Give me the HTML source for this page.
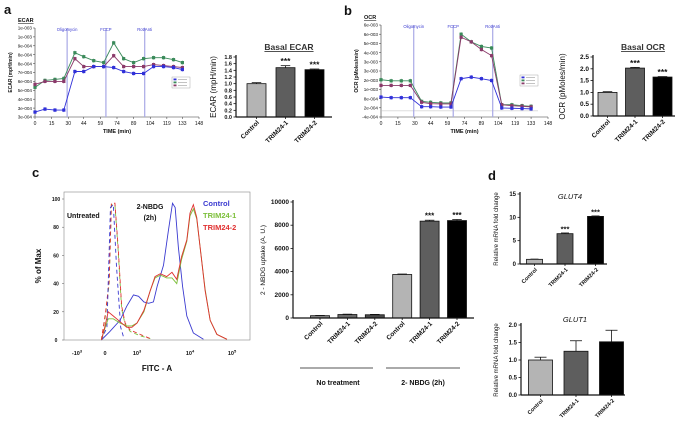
<!DOCTYPE html>
<html><head><meta charset="utf-8"><style>
body{margin:0;background:#fff}
svg{display:block;font-family:"Liberation Sans",sans-serif}
</style></head><body>
<svg id="fig" width="685" height="430" viewBox="0 0 685 430"></svg>
<script>
// ---------- DATA ----------
const times = [0,9,18,26,36,44,53,62,71,80,89,98,107,116,125,133];
const ecarGreen = [5.0,5.7,5.8,5.9,8.5,8.1,7.7,7.5,9.5,7.9,7.5,7.9,8.0,8.0,7.8,7.5];
const ecarPurple = [5.3,5.6,5.6,5.6,7.9,7.1,7.1,7.1,8.2,7.1,7.1,7.1,7.3,7.2,7.1,7.0];
const ecarBlue = [2.5,2.8,2.7,2.7,6.6,6.6,7.1,7.1,7.0,6.6,6.4,6.4,7.1,7.1,7.0,6.8];
const ecarTickLabels = ["3e-004","3e-004","4e-004","5e-004","6e-004","7e-004","8e-004","8e-004","9e-004","1e-003","1e-003"];
const ocrGreen = [2.03,1.96,1.96,1.96,0.62,0.56,0.52,0.52,5.0,4.5,4.2,4.1,0.4,0.4,0.34,0.3];
const ocrPurple = [1.66,1.66,1.66,1.66,0.56,0.47,0.45,0.45,4.8,4.5,4.0,3.6,0.4,0.34,0.3,0.26];
const ocrBlue = [0.9,0.86,0.86,0.86,0.27,0.27,0.25,0.25,2.1,2.2,2.1,1.98,0.19,0.17,0.15,0.13];
const ocrTickLabels = ["-4e-004","2e-004","8e-004","1e-003","2e-003","3e-003","3e-003","4e-003","5e-003","6e-003","6e-003"];
const timeTicks = [0,15,30,44,59,74,89,104,119,133,148];
const injections = ["Oligomycin","FCCP","Rot/Anti"];
const injTimes = [29,64,99];
const barCats = ["Control","TRIM24-1","TRIM24-2"];
const basalEcar = [1.0,1.48,1.42];
const basalEcarErr = [0.03,0.06,0.02];
const basalOcr = [1.0,2.03,1.65];
const basalOcrErr = [0.03,0.03,0.02];
const histBlueU = [-0.13,0.15,0.47,0.68,0.89,1.03,1.13,1.22,1.31,1.38,1.5,1.59,1.67,1.72,1.78,1.86,1.94,2.08,2.32];
const histBlueP = [0,6,14,24,32,31,27,26,27,38,53,77,97,94,66,38,17,5,0.5];
const histRedU = [-0.13,-0.01,0.1,0.26,0.47,0.68,0.84,1.0,1.13,1.25,1.34,1.44,1.56,1.66,1.75,1.84,1.94,2.0,2.08,2.16,2.24,2.36,2.48,2.64,2.88];
const histRedP = [0,9,20,17,13,9,9,12,21,35,45,47,45,48,43,59,71,90,96,87,66,35,14,4,0.5];
const histGreenP = [0,8,15,15,12,10,10,12,20,35,44,46,44,44,40,57,70,88,93,86,66,36,14,4,0.5];
const dashU = [-0.13,0.02,0.13,0.2,0.31,0.41,0.52,0.63,0.79,1.06,1.25];
const dashRedP = [0,20,42,97,97,66,24,12,7,4,1];
const dashGreenP = [0,18,40,96,96,64,22,11,6,3,1];
const dashBlueU = [-0.13,0.06,0.17,0.26,0.36,0.49,0.6];
const dashBlueP = [0,9,94,96,52,9,0.5];
const nbdgCats = ["Control","TRIM24-1","TRIM24-2","Control","TRIM24-1","TRIM24-2"];
const nbdgVals = [200,300,280,3750,8350,8400];
const nbdgErr = [20,30,30,40,80,90];
const glut4Vals = [1.0,6.5,10.2];
const glut4Err = [0.05,0.15,0.1];
const glut1Vals = [1.0,1.25,1.52];
const glut1Err = [0.08,0.3,0.33];

// ---------- HELPERS ----------
const svg = document.getElementById('fig');
const NS = 'http://www.w3.org/2000/svg';
function mk(tag, attrs, name, parent){
  const el = document.createElementNS(NS, tag);
  for (const k in attrs) el.setAttribute(k, attrs[k]);
  
  
  (parent||svg).appendChild(el);
  return el;
}
function txt(x,y,s,size,name,extra){
  const a = Object.assign({x:x,y:y,'font-size':size,fill:'#111'}, extra||{});
  const t = mk('text', a, name);
  t.textContent = s;
  return t;
}
function ln(x1,y1,x2,y2,stroke,w,name,extra){
  return mk('line', Object.assign({x1:x1,y1:y1,x2:x2,y2:y2,stroke:stroke,'stroke-width':w}, extra||{}), name);
}

// ---------- panel letters ----------
txt(4,14,'a',13,'panel-label-a',{'font-weight':'bold'});
txt(344,15,'b',13,'panel-label-b',{'font-weight':'bold'});
txt(32,177,'c',13,'panel-label-c',{'font-weight':'bold'});
txt(488,180,'d',13,'panel-label-d',{'font-weight':'bold'});

// ---------- seahorse line charts ----------
function seahorse(opt){
  const xs = t => opt.x0 + t*(opt.x1-opt.x0)/148;
  const ys = v => opt.yTop + (opt.vTop - v)*(opt.yBot-opt.yTop)/(opt.vTop-opt.vBot);
  ln(opt.x0,opt.yTop,opt.x0,opt.yBot,'#333',0.6,opt.id+'-y-axis');
  ln(opt.x0,opt.yBot,opt.x1,opt.yBot,'#333',0.6,opt.id+'-x-axis');
  const n = opt.tickLabels.length;
  for(let i=0;i<n;i++){
    const v = opt.vBot + i*(opt.vTop-opt.vBot)/(n-1);
    ln(opt.x0-2,ys(v),opt.x0,ys(v),'#333',0.5,opt.id+'-y-tick');
    txt(opt.x0-3,ys(v)+1.7,opt.tickLabels[i],4.6,opt.id+'-y-tick-label',{'text-anchor':'end'});
  }
  timeTicks.forEach(t=>{
    ln(xs(t),opt.yBot,xs(t),opt.yBot+2,'#333',0.5,opt.id+'-x-tick');
    txt(xs(t),opt.yBot+8,String(t),5,opt.id+'-x-tick-label',{'text-anchor':'middle'});
  });
  txt((opt.x0+opt.x1)/2,opt.yBot+16,'TIME (min)',5.5,opt.id+'-x-title',{'text-anchor':'middle','font-weight':'bold'});
  txt(opt.x0-23,(opt.yTop+opt.yBot)/2,opt.yTitle,5,opt.id+'-y-title',{'text-anchor':'middle','font-weight':'bold',transform:'rotate(-90 '+(opt.x0-23)+' '+((opt.yTop+opt.yBot)/2)+')'});
  txt(opt.titleX,opt.yTop-6,opt.title,5.5,opt.id+'-title',{'font-weight':'bold','text-decoration':'underline'});
  if(opt.zeroLine) ln(opt.x0,ys(0),opt.x1-10,ys(0),'#bbb',0.6,opt.id+'-zero-line');
  injTimes.forEach((t,i)=>{
    mk('rect',{x:xs(t)-0.6,y:opt.yTop,width:1.2,height:opt.yBot-opt.yTop,fill:'#a9a9e6'},opt.id+'-injection-line');
    txt(xs(t),opt.yTop+3,injections[i],4.2,opt.id+'-injection-label',{'text-anchor':'middle',fill:'#3a3ad0'});
  });
  [[opt.g,'#3a8a5a'],[opt.p,'#8a3a6a'],[opt.b,'#3030d8']].forEach(([arr,c],si)=>{
    const pts = times.map((t,i)=>xs(t)+','+ys(arr[i])).join(' ');
    mk('polyline',{points:pts,fill:'none',stroke:c,'stroke-width':0.9},opt.id+'-series-line');
    times.forEach((t,i)=>{
      ln(xs(t),ys(arr[i])-2,xs(t),ys(arr[i])+2,c,0.5,opt.id+'-error-bar');
      mk('rect',{x:xs(t)-1.6,y:ys(arr[i])-1.6,width:3.2,height:3.2,fill:c},opt.id+'-point');
    });
  });
  const lx=opt.legX, ly=opt.legY;
  mk('rect',{x:lx,y:ly,width:18,height:11,fill:'#fff',stroke:'#999','stroke-width':0.4},opt.id+'-legend');
  ['#3030d8','#3a8a5a','#8a3a6a'].forEach((c,i)=>{
    mk('rect',{x:lx+1.5,y:ly+1.5+i*3,width:3,height:1.8,fill:c},opt.id+'-legend-swatch');
    ln(lx+6,ly+2.4+i*3,lx+15,ly+2.4+i*3,'#888',0.5,opt.id+'-legend-entry');
  });
}
seahorse({id:'ecar',x0:35,x1:199,yTop:28,yBot:117,vTop:11,vBot:2,tickLabels:ecarTickLabels,g:ecarGreen,p:ecarPurple,b:ecarBlue,yTitle:'ECAR (mpH/min)',title:'ECAR',titleX:18,legX:172,legY:77});
seahorse({id:'ocr',x0:381,x1:548,yTop:25,yBot:117,vTop:5.6,vBot:-0.4,tickLabels:ocrTickLabels,g:ocrGreen,p:ocrPurple,b:ocrBlue,yTitle:'OCR (pMoles/min)',title:'OCR',titleX:364,legX:520,legY:75,zeroLine:true});

// ---------- bar charts ----------
function barChart(o){
  const ys = v => o.y0 - v*(o.y0-o.yTopPx)/o.vMax;
  const cx = i => o.firstC + i*o.step;
  o.vals.forEach((v,i)=>{
    mk('rect',{x:cx(i)-o.bw/2,y:ys(v),width:o.bw,height:o.y0-ys(v),fill:o.colors[i%o.colors.length],stroke:'#111','stroke-width':0.8},o.id+'-bar');
    const e = o.errs[i];
    ln(cx(i),ys(v),cx(i),ys(v+e),'#111',0.8,o.id+'-error-bar');
    ln(cx(i)-o.bw*0.25,ys(v+e),cx(i)+o.bw*0.25,ys(v+e),'#111',0.8,o.id+'-error-cap');
    if(o.stars && o.stars[i]) txt(cx(i),ys(v+e)-1.5,'***',o.starSize||8,o.id+'-significance',{'text-anchor':'middle','font-weight':'bold'});
    const lx=cx(i)+3, ly=o.y0+6;
    txt(lx,ly,o.cats[i],o.catSize,o.id+'-category-label',{'text-anchor':'end','font-weight':'bold',transform:'rotate(-45 '+lx+' '+ly+')'});
    ln(cx(i),o.y0,cx(i),o.y0+2,'#111',0.8,o.id+'-x-tick');
  });
  ln(o.ax,o.yTopPx-2,o.ax,o.y0,'#111',1.2,o.id+'-y-axis');
  ln(o.ax,o.y0,o.xEnd,o.y0,'#111',1.2,o.id+'-x-axis');
  o.ticks.forEach((t,i)=>{
    const v = o.tickVals[i];
    ln(o.ax-2.5,ys(v),o.ax,ys(v),'#111',0.8,o.id+'-y-tick');
    txt(o.ax-4,ys(v)+2,t,o.tickSize,o.id+'-y-tick-label',{'text-anchor':'end','font-weight':'bold'});
  });
  const my=(o.y0+o.yTopPx)/2;
  txt(o.yTitleX,my,o.yTitle,o.yTitleSize,o.id+'-y-title',{'text-anchor':'middle',transform:'rotate(-90 '+o.yTitleX+' '+my+')'});
  if(o.title) txt(o.titleX,o.titleY,o.title,o.titleSize,o.id+'-title',o.titleAttrs);
}
const gray3 = ['#b4b4b4','#5e5e5e','#000'];
barChart({id:'basal-ecar',y0:117,yTopPx:57,vMax:1.8,firstC:256.5,step:29,bw:19,vals:basalEcar,errs:basalEcarErr,colors:gray3,cats:barCats,catSize:6.5,stars:[0,1,1],starSize:8.5,ax:236,xEnd:332,
  ticks:['0.0','0.2','0.4','0.6','0.8','1.0','1.2','1.4','1.6','1.8'],tickVals:[0,0.2,0.4,0.6,0.8,1.0,1.2,1.4,1.6,1.8],tickSize:5.5,yTitle:'ECAR (mpH/min)',yTitleX:216,yTitleSize:8,
  title:'Basal ECAR',titleX:289,titleY:50,titleSize:8.5,titleAttrs:{'text-anchor':'middle','font-weight':'bold','text-decoration':'underline',fill:'#333'}});
barChart({id:'basal-ocr',y0:116,yTopPx:57,vMax:2.5,firstC:607.5,step:27.5,bw:19,vals:basalOcr,errs:basalOcrErr,colors:gray3,cats:barCats,catSize:6.5,stars:[0,1,1],starSize:8.5,ax:593,xEnd:675,
  ticks:['0.0','0.5','1.0','1.5','2.0','2.5'],tickVals:[0,0.5,1,1.5,2,2.5],tickSize:6.5,yTitle:'OCR (pMoles/min)',yTitleX:565,yTitleSize:8,
  title:'Basal OCR',titleX:643,titleY:50,titleSize:8.5,titleAttrs:{'text-anchor':'middle','font-weight':'bold','text-decoration':'underline',fill:'#333'}});
barChart({id:'nbdg-uptake',y0:318,yTopPx:202,vMax:10000,firstC:320,step:27.4,bw:19,vals:nbdgVals,errs:nbdgErr,colors:['#8a8a8a','#6a6a6a','#4a4a4a','#b4b4b4','#5e5e5e','#000'],cats:nbdgCats,catSize:6.5,stars:[0,0,0,0,1,1],starSize:8,ax:293,xEnd:474,
  ticks:['0','2000','4000','6000','8000','10000'],tickVals:[0,2000,4000,6000,8000,10000],tickSize:6.5,yTitle:'2 - NBDG uptake (A. U.)',yTitleX:265,yTitleSize:6.5});
barChart({id:'glut4',y0:264,yTopPx:194,vMax:15,firstC:534.5,step:30.5,bw:16,vals:glut4Vals,errs:glut4Err,colors:gray3,cats:barCats,catSize:5.5,stars:[0,1,1],starSize:7.5,ax:520,xEnd:607,
  ticks:['0','5','10','15'],tickVals:[0,5,10,15],tickSize:6,yTitle:'Relative mRNA fold change',yTitleX:498,yTitleSize:6,
  title:'GLUT4',titleX:570,titleY:199,titleSize:7.5,titleAttrs:{'text-anchor':'middle','font-style':'italic'}});
barChart({id:'glut1',y0:395,yTopPx:325,vMax:2.0,firstC:540.5,step:35.5,bw:24,vals:glut1Vals,errs:glut1Err,colors:gray3,cats:barCats,catSize:5.5,ax:521,xEnd:625,
  ticks:['0.0','0.5','1.0','1.5','2.0'],tickVals:[0,0.5,1,1.5,2],tickSize:6,yTitle:'Relative mRNA fold change',yTitleX:498,yTitleSize:6,
  title:'GLUT1',titleX:575,titleY:322,titleSize:7.5,titleAttrs:{'text-anchor':'middle','font-style':'italic'}});
// group labels in c
ln(300,368,373,368,'#555',1,'group-line-no-treatment');
ln(386,368,460,368,'#555',1,'group-line-nbdg');
txt(338,385,'No treatment',7,'group-label-no-treatment',{'text-anchor':'middle','font-weight':'bold'});
txt(423,385,'2- NBDG (2h)',7,'group-label-nbdg',{'text-anchor':'middle','font-weight':'bold'});

// ---------- histogram (panel c) ----------
const hx0=64,hx1=250,hy0=340,hyTop=192;
const uStops=[-1,0,1,2,3], pxStops=[77,105,137,190,232];
function hxs(u){
  if(u<=0) return 105 + u*28;
  for(let i=1;i<uStops.length;i++){ if(u<=uStops[i]) return pxStops[i-1]+(u-uStops[i-1])*(pxStops[i]-pxStops[i-1]); }
  return 232+(u-3)*42;
}
const hys = p => hy0 - p*1.41;
mk('rect',{x:hx0,y:hyTop,width:hx1-hx0,height:hy0-hyTop,fill:'none',stroke:'#888','stroke-width':0.6},'histogram-frame');
[0,20,40,60,80,100].forEach(p=>{
  ln(hx0-2,hys(p),hx0,hys(p),'#555',0.5,'histogram-y-tick');
  txt(hx0-8,hys(p)+2,String(p),5,'histogram-y-tick-label',{'text-anchor':'middle','font-weight':'bold'});
});
const xLabs=['-10','0','10','10','10'], xSup=['3','','3','4','5'];
uStops.forEach((u,i)=>{
  const t = txt(hxs(u),355,xLabs[i],5.5,'histogram-x-tick-label',{'text-anchor':'middle','font-weight':'bold'});
  if(xSup[i]){ const s=document.createElementNS(NS,'tspan'); s.setAttribute('dy','-2.5'); s.setAttribute('font-size','4'); s.textContent=xSup[i]; t.appendChild(s); }
});
txt(157,371,'FITC - A',8,'histogram-x-title',{'text-anchor':'middle','font-weight':'bold'});
txt(41,266,'% of Max',8,'histogram-y-title',{'text-anchor':'middle','font-weight':'bold',transform:'rotate(-90 41 266)'});
function hline(us,ps,c,dash,name){
  const pts = us.map((u,i)=>hxs(u)+','+hys(ps[i])).join(' ');
  const a={points:pts,fill:'none',stroke:c,'stroke-width':0.9};
  if(dash) a['stroke-dasharray']='4,3';
  mk('polyline',a,name);
}
hline(dashU,dashGreenP,'#7cbf3a',true,'untreated-trim24-1-curve');
hline(dashU,dashRedP,'#e03030',true,'untreated-trim24-2-curve');
hline(dashBlueU,dashBlueP,'#3a3ad0',true,'untreated-control-curve');
hline(histBlueU,histBlueP,'#3a3ad0',false,'nbdg-control-curve');
hline(histRedU,histGreenP,'#7cbf3a',false,'nbdg-trim24-1-curve');
hline(histRedU,histRedP,'#e03030',false,'nbdg-trim24-2-curve');
txt(67,218,'Untreated',7,'untreated-label',{'font-weight':'bold'});
txt(150,209,'2-NBDG',7,'nbdg-label',{'text-anchor':'middle','font-weight':'bold'});
txt(150,220,'(2h)',7,'nbdg-time-label',{'text-anchor':'middle','font-weight':'bold'});
txt(203,206,'Control',7.5,'legend-control',{fill:'#3a3ad0','font-weight':'bold'});
txt(203,218,'TRIM24-1',7.5,'legend-trim24-1',{fill:'#7cbf3a','font-weight':'bold'});
txt(203,230,'TRIM24-2',7.5,'legend-trim24-2',{fill:'#e03030','font-weight':'bold'});
</script>
</body></html>
